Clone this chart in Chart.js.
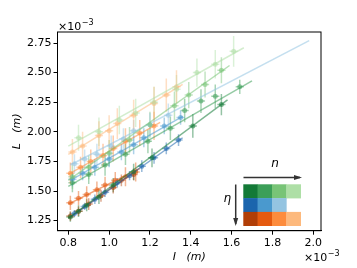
<!DOCTYPE html>
<html>
<head>
<meta charset="utf-8">
<script src="https://cdn.jsdelivr.net/npm/chart.js@4.4.1/dist/chart.umd.min.js"></script>
<style>
  html, body { margin: 0; padding: 0; background: #fff; }
  #wrap { width: 357px; height: 268px; }
</style>
</head>
<body>
<div id="wrap"><canvas id="chart" width="357" height="268"></canvas></div>
<script>
// all values in units of 1e-3 m (the axes show x10^-3)
const xTicks = [0.8, 1.0, 1.2, 1.4, 1.6, 1.8, 2.0];
const yTicks = [1.25, 1.50, 1.75, 2.00, 2.25, 2.50, 2.75];

// greens (eta row 1)
const xG1 = [0.81, 0.85, 0.89, 0.95, 1.02, 1.12, 1.21, 1.41, 1.55];
const yG1 = [1.28, 1.33, 1.38, 1.45, 1.55, 1.66, 1.78, 2.05, 2.23];
const eyG1 = [0.04, 0.05, 0.05, 0.06, 0.06, 0.07, 0.08, 0.10, 0.09];
const fitXG1 = [0.80, 1.58];
const fitYG1 = [1.27, 2.27];

const xG2 = [0.82, 0.90, 0.98, 1.08, 1.19, 1.30, 1.37, 1.45, 1.52, 1.64];
const yG2 = [1.57, 1.64, 1.72, 1.81, 1.92, 2.03, 2.18, 2.26, 2.30, 2.38];
const eyG2 = [0.08, 0.08, 0.09, 0.09, 0.10, 0.10, 0.10, 0.10, 0.10, 0.06];
const fitXG2 = [0.80, 1.70];
const fitYG2 = [1.54, 2.43];

const xG3 = [0.82, 0.90, 1.00, 1.10, 1.20, 1.32, 1.39, 1.47, 1.55];
const yG3 = [1.62, 1.70, 1.82, 1.93, 2.06, 2.22, 2.31, 2.40, 2.52];
const eyG3 = [0.10, 0.10, 0.11, 0.11, 0.11, 0.12, 0.11, 0.11, 0.11];
const fitXG3 = [0.80, 1.59];
const fitYG3 = [1.59, 2.56];

const xG4 = [0.85, 0.95, 1.05, 1.13, 1.22, 1.33, 1.43, 1.52, 1.61];
const yG4 = [1.95, 2.00, 2.10, 2.16, 2.25, 2.36, 2.50, 2.57, 2.68];
const eyG4 = [0.11, 0.12, 0.12, 0.12, 0.13, 0.12, 0.12, 0.12, 0.13];
const fitXG4 = [0.80, 1.66];
const fitYG4 = [1.88, 2.71];

// blues (eta row 2)
const xB1 = [0.83, 0.88, 0.93, 0.98, 1.04, 1.10, 1.16, 1.22, 1.28, 1.34];
const yB1 = [1.31, 1.37, 1.43, 1.49, 1.57, 1.63, 1.71, 1.78, 1.86, 1.93];
const eyB1 = [0.03, 0.03, 0.04, 0.04, 0.04, 0.04, 0.05, 0.05, 0.05, 0.05];
const fitXB1 = [0.81, 1.36];
const fitYB1 = [1.28, 1.95];

const xB2 = [0.82, 0.87, 0.93, 1.00, 1.06, 1.12, 1.17, 1.27, 1.35];
const yB2 = [1.60, 1.65, 1.70, 1.77, 1.83, 1.89, 1.95, 2.05, 2.12];
const eyB2 = [0.06, 0.06, 0.07, 0.07, 0.07, 0.08, 0.08, 0.07, 0.06];
const fitXB2 = [0.81, 1.36];
const fitYB2 = [1.59, 2.13];

const xB3 = [0.83, 0.88, 0.94, 1.01, 1.07, 1.12, 1.20, 1.29];
const yB3 = [1.73, 1.77, 1.81, 1.88, 1.94, 2.01, 2.06, 2.14];
const eyB3 = [0.08, 0.08, 0.09, 0.09, 0.09, 0.09, 0.10, 0.10];
const fitXB3 = [0.81, 1.98];
const fitYB3 = [1.72, 2.77];

// oranges (eta row 3)
const xO1 = [0.81, 0.85, 0.90, 0.96, 1.02, 1.06, 1.12];
const yO1 = [1.29, 1.33, 1.39, 1.46, 1.53, 1.59, 1.64];
const eyO1 = [0.04, 0.04, 0.05, 0.05, 0.05, 0.05, 0.05];
const fitXO1 = [0.80, 1.14];
const fitYO1 = [1.27, 1.68];

const xO2 = [0.81, 0.85, 0.89, 0.94, 0.98, 1.03, 1.08, 1.13];
const yO2 = [1.40, 1.44, 1.47, 1.51, 1.55, 1.59, 1.62, 1.66];
const eyO2 = [0.06, 0.06, 0.07, 0.07, 0.07, 0.07, 0.08, 0.08];
const fitXO2 = [0.80, 1.15];
const fitYO2 = [1.39, 1.69];

const xO3 = [0.81, 0.86, 0.91, 0.97, 1.02, 1.08, 1.15, 1.22];
const yO3 = [1.65, 1.70, 1.75, 1.80, 1.86, 1.92, 1.99, 2.05];
const eyO3 = [0.09, 0.09, 0.10, 0.10, 0.11, 0.11, 0.11, 0.12];
const fitXO3 = [0.80, 1.25];
const fitYO3 = [1.64, 2.08];

const xO4 = [0.82, 0.87, 0.95, 1.00, 1.04, 1.12, 1.22, 1.28, 1.33];
const yO4 = [1.83, 1.88, 1.97, 2.01, 2.07, 2.14, 2.24, 2.31, 2.38];
const eyO4 = [0.11, 0.12, 0.12, 0.13, 0.13, 0.13, 0.14, 0.14, 0.14];
const fitXO4 = [0.80, 1.36];
const fitYO4 = [1.81, 2.40];

const greens = ['#137a37', '#3c9f58', '#78c477', '#aedfa6'];
const blues = ['#1b65ad', '#4a99ce', '#94c4e1'];
const oranges = ['#b13e07', '#e55a0f', '#fd8c3d', '#fdb97d'];

const series = [
  { x: xG1, y: yG1, ey: eyG1, fx: fitXG1, fy: fitYG1, c: greens[0] },
  { x: xG2, y: yG2, ey: eyG2, fx: fitXG2, fy: fitYG2, c: greens[1] },
  { x: xG3, y: yG3, ey: eyG3, fx: fitXG3, fy: fitYG3, c: greens[2] },
  { x: xG4, y: yG4, ey: eyG4, fx: fitXG4, fy: fitYG4, c: greens[3] },
  { x: xB1, y: yB1, ey: eyB1, fx: fitXB1, fy: fitYB1, c: blues[0] },
  { x: xB2, y: yB2, ey: eyB2, fx: fitXB2, fy: fitYB2, c: blues[1] },
  { x: xB3, y: yB3, ey: eyB3, fx: fitXB3, fy: fitYB3, c: blues[2] },
  { x: xO1, y: yO1, ey: eyO1, fx: fitXO1, fy: fitYO1, c: oranges[0] },
  { x: xO2, y: yO2, ey: eyO2, fx: fitXO2, fy: fitYO2, c: oranges[1] },
  { x: xO3, y: yO3, ey: eyO3, fx: fitXO3, fy: fitYO3, c: oranges[2] },
  { x: xO4, y: yO4, ey: eyO4, fx: fitXO4, fy: fitYO4, c: oranges[3] }
];

function alpha(hex, a) {
  const n = parseInt(hex.slice(1), 16);
  return `rgba(${(n >> 16) & 255}, ${(n >> 8) & 255}, ${n & 255}, ${a})`;
}

const datasets = [];
series.forEach(s => {
  datasets.push({
    type: 'line',
    data: s.fx.map((v, i) => ({ x: v, y: s.fy[i] })),
    borderColor: alpha(s.c, 0.55),
    borderWidth: 1.5,
    pointRadius: 0,
    fill: false
  });
  datasets.push({
    type: 'scatter',
    data: s.x.map((v, i) => ({ x: v, y: s.y[i] })),
    yErr: s.ey,
    xErr: s.x.map(() => 0.02),
    errColor: alpha(s.c, 0.45),
    backgroundColor: alpha(s.c, 0.55),
    borderWidth: 0,
    pointRadius: 2.5
  });
});

const font = "'DejaVu Sans', sans-serif";

// vertical + horizontal error bars drawn through the scales
const errorBars = {
  id: 'errorBars',
  beforeDatasetsDraw(chart) {
    const ctx = chart.ctx, xs = chart.scales.x, ys = chart.scales.y, a = chart.chartArea;
    ctx.save();
    ctx.beginPath();
    ctx.rect(a.left, a.top, a.right - a.left, a.bottom - a.top);
    ctx.clip();
    chart.data.datasets.forEach(ds => {
      if (!ds.yErr) return;
      ctx.strokeStyle = ds.errColor;
      ctx.lineWidth = 1.5;
      ds.data.forEach((p, j) => {
        const px = xs.getPixelForValue(p.x), py = ys.getPixelForValue(p.y);
        ctx.beginPath();
        ctx.moveTo(px, ys.getPixelForValue(p.y - ds.yErr[j]));
        ctx.lineTo(px, ys.getPixelForValue(p.y + ds.yErr[j]));
        ctx.moveTo(xs.getPixelForValue(p.x - ds.xErr[j]), py);
        ctx.lineTo(xs.getPixelForValue(p.x + ds.xErr[j]), py);
        ctx.stroke();
      });
    });
    ctx.restore();
  }
};

function sci(ctx, x, y) {
  ctx.font = `11px ${font}`;
  ctx.textAlign = 'left';
  ctx.textBaseline = 'alphabetic';
  ctx.fillText('\u00d710', x, y);
  const w = ctx.measureText('\u00d710').width;
  ctx.font = `8px ${font}`;
  ctx.fillText('\u22123', x + w + 0.5, y - 5);
}

function arrow(ctx, x0, y0, x1, y1) {
  ctx.beginPath();
  ctx.moveTo(x0, y0);
  ctx.lineTo(x1, y1);
  ctx.stroke();
  const ang = Math.atan2(y1 - y0, x1 - x0);
  ctx.beginPath();
  ctx.moveTo(x1 + 2 * Math.cos(ang), y1 + 2 * Math.sin(ang));
  ctx.lineTo(x1 - 6 * Math.cos(ang) + 2.5 * Math.sin(ang), y1 - 6 * Math.sin(ang) - 2.5 * Math.cos(ang));
  ctx.lineTo(x1 - 6 * Math.cos(ang) - 2.5 * Math.sin(ang), y1 - 6 * Math.sin(ang) + 2.5 * Math.cos(ang));
  ctx.closePath();
  ctx.fill();
}

const decor = {
  id: 'decor',
  afterDraw(chart) {
    const ctx = chart.ctx, a = chart.chartArea;
    ctx.save();
    // frame
    ctx.strokeStyle = '#000';
    ctx.lineWidth = 1;
    ctx.strokeRect(a.left, a.top, a.right - a.left, a.bottom - a.top);
    ctx.fillStyle = '#000';
    // axis titles
    ctx.font = `italic 11px ${font}`;
    ctx.textAlign = 'center';
    ctx.textBaseline = 'middle';
    ctx.fillText('I   (m)', (a.left + a.right) / 2, 257);
    ctx.save();
    ctx.translate(17, (a.top + a.bottom) / 2);
    ctx.rotate(-Math.PI / 2);
    ctx.fillText('L   (m)', 0, 0);
    ctx.restore();
    // offset texts
    sci(ctx, 58, 30);
    sci(ctx, 304, 261);
    // inset key: rows = eta, columns = n
    const rows = [greens, blues, oranges];
    const x0 = 243.3, y0 = 184.3, cw = 14.35, ch = 13.8;
    rows.forEach((r, i) => r.forEach((c, j) => {
      ctx.fillStyle = c;
      ctx.fillRect(x0 + j * cw, y0 + i * ch, cw + 0.3, ch + 0.3);
    }));
    ctx.strokeStyle = '#333';
    ctx.fillStyle = '#333';
    ctx.lineWidth = 1.5;
    arrow(ctx, 243.5, 177.5, 300, 177.5);
    arrow(ctx, 235.7, 184.5, 235.7, 224);
    ctx.fillStyle = '#000';
    ctx.font = `italic 12px ${font}`;
    ctx.textAlign = 'center';
    ctx.fillText('n', 275, 167);
    ctx.textAlign = 'right';
    ctx.fillText('\u03b7', 231, 202);
    ctx.restore();
  }
};

new Chart(document.getElementById('chart'), {
  type: 'scatter',
  data: { datasets },
  options: {
    responsive: false,
    animation: false,
    layout: { padding: { left: 0, right: 36, top: 32, bottom: 0 } },
    plugins: { legend: { display: false }, tooltip: { enabled: false } },
    scales: {
      x: {
        type: 'linear',
        min: 0.747,
        max: 2.038,
        afterBuildTicks: s => { s.ticks = xTicks.map(v => ({ value: v })); },
        afterFit: s => { s.height = 37.3; },
        grid: { drawOnChartArea: false, drawTicks: true, tickLength: 4, color: '#000' },
        border: { display: true, color: '#000' },
        ticks: { color: '#000', font: { family: font, size: 11 }, padding: 2, maxRotation: 0,
          callback: v => v.toFixed(1) }
      },
      y: {
        type: 'linear',
        min: 1.165,
        max: 2.843,
        afterBuildTicks: s => { s.ticks = yTicks.map(v => ({ value: v })); },
        afterFit: s => { s.width = 57.5; },
        grid: { drawOnChartArea: false, drawTicks: true, tickLength: 4, color: '#000' },
        border: { display: true, color: '#000' },
        ticks: { color: '#000', font: { family: font, size: 11 }, padding: 2,
          callback: v => v.toFixed(2) }
      }
    }
  },
  plugins: [errorBars, decor]
});
</script>
</body>
</html>
